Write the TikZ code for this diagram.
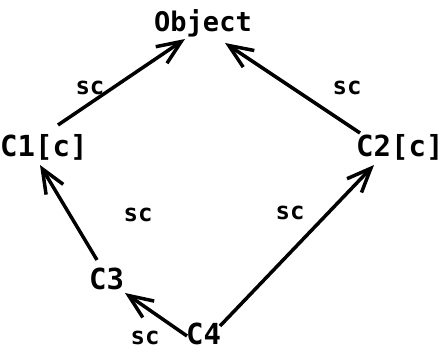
\documentclass[tikz,border=0pt]{standalone}
\usepackage{fontspec}
\setmonofont{DejaVu Sans Mono}
\usetikzlibrary{arrows.meta,calc}
\begin{document}
\begin{tikzpicture}[x=1pt,y=-1pt,
  lbl/.style={inner sep=0pt,font=\ttfamily\bfseries\fontsize{29}{31}\selectfont},
  obj/.style={inner sep=0pt,font=\ttfamily\bfseries\fontsize{27}{29}\selectfont},
  sclbl/.style={inner sep=0pt,font=\ttfamily\bfseries\fontsize{24}{26}\selectfont},
  arr/.style={line width=3.5pt,-{Straight Barb[length=24pt,width=20pt,line width=3.5pt]}}]
\useasboundingbox (0,0) rectangle (444,352);
\node[obj,anchor=base] (Object) at (203,32) {Object};
\node[lbl,anchor=base west] (C1) at (0,157) {C1[c]};
\node[lbl,anchor=base west] (C2) at (356,157) {C2[c]};
\node[lbl,anchor=base west] (C3) at (89,290) {C3};
\node[lbl,anchor=base west] (C4) at (186,344) {C4};
\node[sclbl] (s1) at (90,88) {sc};
\node[sclbl] (s2) at (347,88) {sc};
\node[sclbl] (s3) at (138,215) {sc};
\node[sclbl] (s4) at (290,213) {sc};
\node[sclbl] (s5) at (145,338) {sc};
\draw[arr] ($(C1.base west)+(58,-32)$) -- ($(Object.base)+(-18,7)$);
\draw[arr] ($(C2.base west)+(4,-24)$) -- ($(Object.base)+(22,11)$);
\draw[arr] ($(C3.base west)+(8,-30)$) -- ($(C1.base west)+(40,8)$);
\draw[arr] ($(C4.base west)+(1,-8)$) -- ($(C3.base west)+(36,3)$);
\draw[arr] ($(C4.base west)+(34,-18)$) -- ($(C2.base west)+(18,8)$);
\end{tikzpicture}
\end{document}
